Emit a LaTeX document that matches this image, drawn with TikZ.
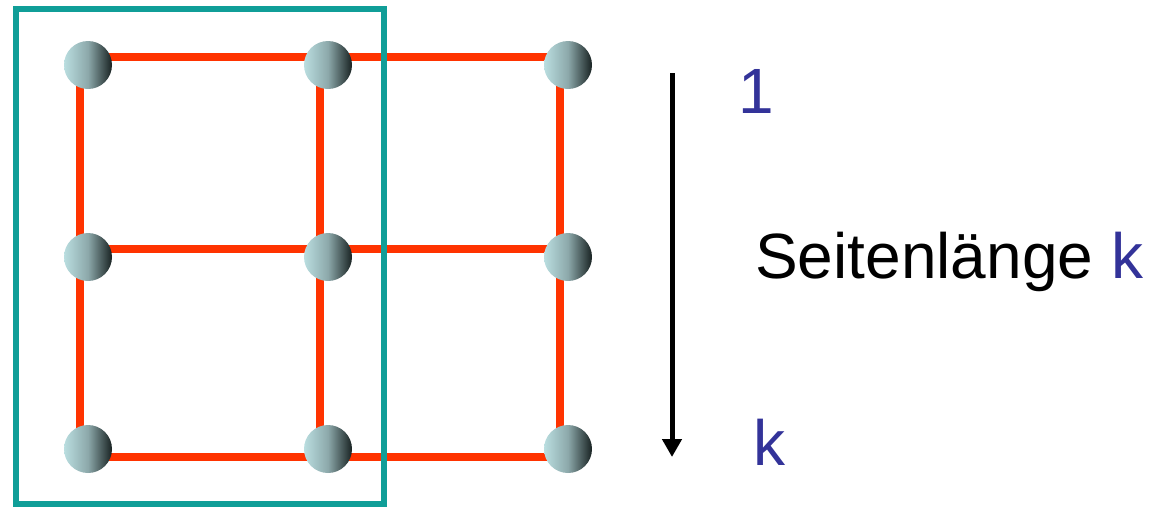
\documentclass[tikz,border=0pt]{standalone}
\usepackage{fontspec}
\setmainfont{Liberation Sans}
\usetikzlibrary{arrows.meta}
\definecolor{gridred}{RGB}{255,51,0}
\definecolor{frameteal}{RGB}{16,158,152}
\definecolor{ballL}{RGB}{186,222,224}
\definecolor{ballM}{RGB}{140,168,170}
\definecolor{ballR}{RGB}{24,34,34}
\definecolor{labelblue}{RGB}{51,51,153}
\tikzset{
  ball/.style={circle, minimum size=48pt, inner sep=0pt, left color=ballL, right color=ballR, middle color=ballM, draw=none},
  edge/.style={draw=gridred, line width=8pt},
  frame/.style={draw=frameteal, line width=6pt},
  lbl/.style={inner sep=0pt, anchor=base west, font=\fontsize{64}{64}\selectfont},
}
\begin{document}
\begin{tikzpicture}[x=1pt,y=-1pt]
\useasboundingbox (0,0) rectangle (1151,507);
% grid points
\coordinate (g11) at (80,57);  \coordinate (g12) at (320,57);  \coordinate (g13) at (560,57);
\coordinate (g21) at (80,249); \coordinate (g22) at (320,249); \coordinate (g23) at (560,249);
\coordinate (g31) at (80,457); \coordinate (g32) at (320,457); \coordinate (g33) at (560,457);
% red edges
\draw[edge] (g11) -- (g12);
\draw[edge] (g12) -- (g13);
\draw[edge] (g21) -- (g22);
\draw[edge] (g22) -- (g23);
\draw[edge] (g31) -- (g32);
\draw[edge] (g32) -- (g33);
\draw[edge] (g11) -- (g21);
\draw[edge] (g21) -- (g31);
\draw[edge] (g12) -- (g22);
\draw[edge] (g22) -- (g32);
\draw[edge] (g13) -- (g23);
\draw[edge] (g23) -- (g33);
% frame
\draw[frame] (16,9) rectangle (384,504);
% balls
\node[ball] (b11) at (88,65) {};
\node[ball] (b12) at (328,65) {};
\node[ball] (b13) at (568,65) {};
\node[ball] (b21) at (88,257) {};
\node[ball] (b22) at (328,257) {};
\node[ball] (b23) at (568,257) {};
\node[ball] (b31) at (88,449) {};
\node[ball] (b32) at (328,449) {};
\node[ball] (b33) at (568,449) {};
% arrow
\coordinate (atop) at (672,73);
\coordinate (abot) at (672,457);
\draw[line width=5pt, -{Triangle[length=18pt,width=19pt]}] (atop) -- (abot);
% labels
\node[lbl, text=labelblue] (one) at (738,113) {1};
\node[lbl] (side) at (755,278) {Seitenlänge \textcolor{labelblue}{k}};
\node[lbl, text=labelblue] (kk) at (753,465) {k};
\end{tikzpicture}
\end{document}
